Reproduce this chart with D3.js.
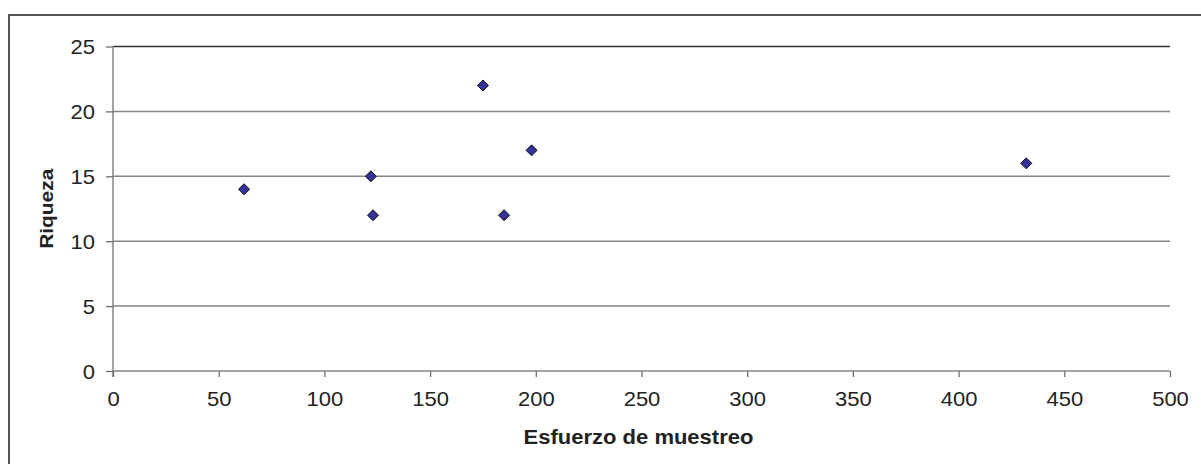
<!DOCTYPE html>
<html><head><meta charset="utf-8">
<script src="https://cdn.jsdelivr.net/npm/d3@7"></script>
<style>body{margin:0;background:#fff}svg{display:block}text{font-family:"Liberation Sans",Arial,sans-serif;fill:#222}</style>
</head><body>
<svg id="c" width="1201" height="464"></svg>
<script>
const esfuerzo = [62, 122, 123, 175, 185, 198, 432];
const riqueza  = [14, 15, 12, 22, 12, 17, 16];
const xTicks = [0, 50, 100, 150, 200, 250, 300, 350, 400, 450, 500];
const yTicks = [0, 5, 10, 15, 20, 25];
const xTitle = "Esfuerzo de muestreo";
const yTitle = "Riqueza";

const svg = d3.select("#c");
const L = 113, R = 1170, T = 46.5, B = 371;
const x = d3.scaleLinear().domain([0, 500]).range([L, R]);
const y = d3.scaleLinear().domain([0, 25]).range([B, T]);
const SX = 1.1;

// outer chart border (only top/left visible)
svg.append("path").attr("d", `M9,470V15H1210`).attr("fill","none").attr("stroke","#555").attr("stroke-width",2);

// gridlines
svg.append("g").selectAll("line").data(yTicks.filter(d=>d>0)).join("line")
  .attr("x1", L).attr("x2", R).attr("y1", d=>y(d)).attr("y2", d=>y(d))
  .attr("stroke", d=> d===25 ? "#333" : "#858585").attr("stroke-width", 1.5);

// y axis
const yAx = svg.append("g").attr("transform", `translate(${L},0)`)
  .call(d3.axisLeft(y).tickValues(yTicks).tickSize(7).tickPadding(11).tickSizeOuter(0));
yAx.select(".domain").attr("stroke","#858585").attr("stroke-width",1.5).attr("d", `M0,${B+6}V${T}`);
yAx.selectAll(".tick line").attr("stroke","#666").attr("stroke-width",1.2);
yAx.selectAll(".tick text").attr("font-size",20).attr("fill","#222").attr("dy","0.36em")
  .attr("transform", function(){ const xx=+d3.select(this).attr("x"); return `translate(${xx*(1-SX)},0) scale(${SX},1)`; });

// x axis
const xAx = svg.append("g").attr("transform", `translate(0,${B})`)
  .call(d3.axisBottom(x).tickValues(xTicks).tickSize(6).tickPadding(15).tickSizeOuter(0));
xAx.select(".domain").attr("stroke","#858585").attr("stroke-width",1.5).attr("d", `M${L},0H${R}`);
xAx.selectAll(".tick line").attr("stroke","#666").attr("stroke-width",1.2);
xAx.selectAll(".tick text").attr("font-size",20).attr("fill","#222")
  .attr("transform", `scale(${SX},1)`);
xAx.selectAll(".tick text").attr("dy","0.71em");

// markers
const pts = esfuerzo.map((v,i)=>({x:v,y:riqueza[i]}));
svg.append("g").selectAll("path").data(pts).join("path")
  .attr("d", d=>{const cx=x(d.x), cy=y(d.y), r=5.5; return `M${cx},${cy-r}L${cx+r},${cy}L${cx},${cy+r}L${cx-r},${cy}Z`;})
  .attr("fill","#333399").attr("stroke","#111").attr("stroke-width",1);

// titles
svg.append("text").attr("transform", `translate(${(L+R)/2-3},444) scale(${SX},1)`)
  .attr("text-anchor","middle").attr("font-size",20).attr("font-weight","bold").text(xTitle);
svg.append("text").attr("transform", `translate(53,${(T+B)/2}) scale(1,${SX}) rotate(-90)`)
  .attr("text-anchor","middle").attr("font-size",19).attr("font-weight","bold").text(yTitle);
</script>
</body></html>
